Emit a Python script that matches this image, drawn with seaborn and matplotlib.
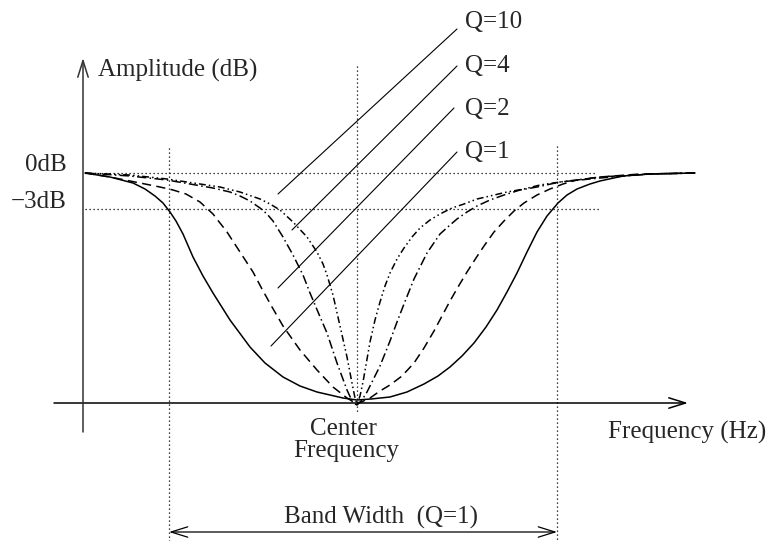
import numpy as np
import pandas as pd
import matplotlib
matplotlib.use("Agg")
import matplotlib.pyplot as plt
import seaborn as sns

sns.set_theme(style="white")
plt.rcParams["font.family"] = ["Liberation Serif", "DejaVu Serif"]

# notch responses (diagram units: x = frequency position, y = level position)
q1_x = [85, 110, 133, 145, 155, 163, 170, 176, 183, 193, 203, 213, 230, 250, 265, 283, 300, 317, 343, 357,
        371, 390, 407, 424, 438, 450, 462, 474, 486, 497, 507, 517, 527, 537, 547, 558, 567, 577, 590, 600, 623, 650, 695]
q1_y = [173, 177, 183, 189, 196, 203, 212, 221, 234, 257, 276, 293, 320, 347, 363, 377, 386, 392, 398, 400,
        399, 397, 392, 384, 376, 367, 356, 343, 327, 310, 292, 273, 252, 232, 216, 203, 195, 189, 184, 181, 176, 174, 173]

q2_x = [85, 110, 140, 160, 173, 186, 200, 213, 227, 240, 253, 262, 272, 283, 300, 317, 333, 347, 357,
        370, 380, 390, 402, 414, 424, 434, 442, 450, 458, 467, 476, 484, 494, 504, 514, 524, 537, 550, 563, 577, 600, 640, 695]
q2_y = [173, 177, 183, 187, 190, 194, 202, 214, 232, 252, 272, 289, 307, 326, 350, 370, 387, 398, 404,
        398, 391, 385, 376, 363, 348, 331, 316, 301, 287, 272, 258, 246, 232, 221, 211, 203, 195, 189, 184, 180, 177, 174, 173]

q4_x = [85, 130, 167, 190, 213, 230, 240, 250, 260, 267, 273, 283, 293, 303, 310, 318, 327, 337, 347, 353, 357,
        362, 367, 373, 380, 390, 397, 404, 414, 427, 440, 450, 457, 467, 477, 490, 504, 520, 537, 560, 600, 650, 695]
q4_y = [173, 176, 180, 184, 188, 192, 196, 201, 208, 214, 221, 237, 255, 275, 293, 312, 333, 363, 390, 403, 405,
        400, 392, 380, 366, 341, 322, 304, 279, 253, 234, 225, 219, 212, 206, 200, 195, 190, 187, 182, 178, 174, 173]

q10_x = [85, 130, 167, 200, 220, 240, 260, 270, 280, 293, 307, 317, 323, 327, 333, 340, 347, 352, 355, 357,
         360, 363, 366, 370, 375, 380, 385, 390, 397, 404, 412, 420, 430, 440, 452, 464, 477, 490, 507, 524, 540, 560, 600, 650, 695]
q10_y = [173, 175, 179, 184, 187, 192, 199, 204, 210, 222, 237, 252, 264, 275, 295, 326, 357, 383, 398, 404,
         396, 382, 365, 342, 320, 302, 286, 273, 259, 248, 237, 228, 220, 214, 208, 204, 199, 196, 192, 189, 185, 182, 177, 174, 173]

# Q labels and their leader lines
q_labels = ["Q=10", "Q=4", "Q=2", "Q=1"]
label_y = [22, 66, 109, 152]
leader_top = [(457, 29), (457, 66), (454, 108), (457, 152)]
leader_end = [(278, 194), (292, 230), (278, 288), (271, 346)]

# reference levels / frequencies
level_0db, level_3db = 173, 209
center_f = 357
band_lo, band_hi = 169, 557

curves = pd.concat([
    pd.DataFrame({"x": q1_x, "y": q1_y, "Q": "Q=1"}),
    pd.DataFrame({"x": q2_x, "y": q2_y, "Q": "Q=2"}),
    pd.DataFrame({"x": q4_x, "y": q4_y, "Q": "Q=4"}),
    pd.DataFrame({"x": q10_x, "y": q10_y, "Q": "Q=10"}),
], ignore_index=True)

fig = plt.figure(figsize=(7.73, 5.41), dpi=100)
ax = fig.add_axes([0, 0, 1, 1])

dot = dict(color="black", lw=0.9, ls=(0, (1, 2.2)))
ax.plot([85, 597], [level_0db, level_0db], **dot)
ax.plot([85, 600], [level_3db, level_3db], **dot)
ax.plot([center_f, center_f], [66, 413], **dot)
ax.plot([band_lo, band_lo], [148, 541], **dot)
ax.plot([band_hi, band_hi], [146, 541], **dot)

sns.lineplot(data=curves, x="x", y="y", style="Q", sort=False, estimator=None,
             color="black", linewidth=1.1, legend=False, ax=ax,
             dashes={"Q=1": "", "Q=2": (6, 3.5), "Q=4": (6, 2.2, 1, 2.2),
                     "Q=10": (4.5, 2, 1, 2, 1, 2)})
ax.set_xlim(0, 773)
ax.set_ylim(541, 0)
ax.axis("off")

for lab, ly, (x0, y0), (x1, y1) in zip(q_labels, label_y, leader_top, leader_end):
    ax.plot([x0, x1], [y0, y1], color="black", lw=0.8)
    ax.text(465, ly, lab, fontsize=18, ha="left", va="center")

# axes arrows
head = "->,head_length=0.8,head_width=0.25"
ax.annotate("", xy=(688, 403), xytext=(54, 403),
            arrowprops=dict(arrowstyle=head, lw=1.1, color="black",
                            shrinkA=0, shrinkB=0, mutation_scale=15))
ax.annotate("", xy=(83, 58), xytext=(83, 432),
            arrowprops=dict(arrowstyle=head, lw=1.1, color="#333333",
                            shrinkA=0, shrinkB=0, mutation_scale=15))
ax.annotate("", xy=(band_hi, 532), xytext=(band_lo, 532),
            arrowprops=dict(arrowstyle="<->,head_length=0.8,head_width=0.25", lw=0.9,
                            color="black", shrinkA=0, shrinkB=0, mutation_scale=15))

ax.text(98, 70, "Amplitude (dB)", fontsize=18, ha="left", va="center")
ax.text(67, 165, "0dB", fontsize=18, ha="right", va="center")
ax.text(67, 202, "\u22123dB", fontsize=18, ha="right", va="center")
ax.text(608, 432, "Frequency (Hz)", fontsize=18, ha="left", va="center")
ax.text(343, 429, "Center", fontsize=18, ha="center", va="center")
ax.text(346, 451, "Frequency", fontsize=18, ha="center", va="center")
ax.text(284, 517, "Band Width  (Q=1)", fontsize=18, ha="left", va="center")

fig.savefig("out.png", dpi=100)
